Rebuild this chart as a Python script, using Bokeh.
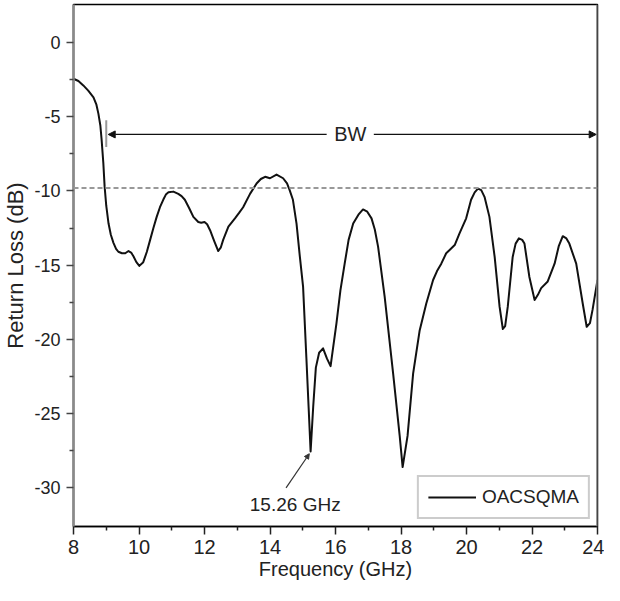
from bokeh.plotting import figure
from bokeh.models import (Range1d, FixedTicker, Span, Arrow, NormalHead, Legend,
                          LegendItem, Label, PrintfTickFormatter)
from bokeh.embed import file_html
from bokeh.resources import INLINE

# ---- data ----
freq_ghz = [8.0, 8.15, 8.3, 8.45, 8.61, 8.7, 8.76, 8.82, 8.86, 8.91, 8.95, 9.0, 9.07,
            9.14, 9.22, 9.3, 9.37, 9.48, 9.58, 9.68, 9.76, 9.83, 9.92, 10.01,
            10.13, 10.24, 10.34, 10.44, 10.54, 10.64, 10.74, 10.82, 10.9, 11.05, 11.2,
            11.3, 11.4, 11.53, 11.66, 11.81, 11.9, 12.0, 12.08, 12.17, 12.3, 12.42,
            12.5, 12.57, 12.73, 12.93, 13.05, 13.18, 13.39, 13.59, 13.72, 13.85, 14.0,
            14.2, 14.4, 14.52, 14.6, 14.7, 14.81, 14.91, 15.01, 15.11, 15.18, 15.24,
            15.32, 15.4, 15.5, 15.62, 15.74, 15.85, 16.03, 16.15, 16.28, 16.4, 16.54,
            16.7, 16.84, 16.97, 17.1, 17.2, 17.3, 17.5, 17.76, 17.96, 18.05, 18.2,
            18.37, 18.57, 18.77, 18.98, 19.1, 19.23, 19.38, 19.5, 19.64, 19.79, 19.99,
            20.14, 20.25, 20.35, 20.45, 20.55, 20.7, 20.86, 21.01, 21.11, 21.18, 21.26,
            21.41, 21.5, 21.6, 21.7, 21.77, 21.92, 22.08, 22.18, 22.28, 22.48, 22.69,
            22.82, 22.94, 23.05, 23.14, 23.35, 23.55, 23.67, 23.77, 23.85, 24.0]
return_loss_db = [-2.45, -2.6, -2.9, -3.25, -3.7, -4.2, -4.8, -5.6, -6.6, -8.1, -9.7,
                  -11.0, -12.2, -12.95, -13.5, -13.9, -14.1, -14.2, -14.2, -14.05,
                  -14.15, -14.4, -14.8, -15.05, -14.8, -14.1, -13.3, -12.5, -11.75,
                  -11.1, -10.6, -10.25, -10.1, -10.05, -10.2, -10.35, -10.6, -11.15,
                  -11.75, -12.1, -12.15, -12.1, -12.25, -12.65, -13.4, -14.05, -13.8,
                  -13.3, -12.4, -11.85, -11.5, -11.1, -10.2, -9.5, -9.2, -9.05, -9.15,
                  -8.9, -9.15, -9.5, -9.95, -10.6, -12.2, -14.4, -16.45, -21.2, -24.6,
                  -27.55, -24.5, -21.9, -20.9, -20.6, -21.3, -21.8, -18.9, -16.7, -14.9,
                  -13.3, -12.2, -11.6, -11.25, -11.4, -11.85, -12.6, -13.75, -17.1,
                  -22.3, -26.5, -28.6, -26.5, -22.3, -19.4, -17.6, -16.0, -15.4, -14.9,
                  -14.2, -13.95, -13.65, -12.85, -11.85, -10.6, -10.1, -9.85, -9.95,
                  -10.4, -11.75, -14.45, -17.8, -19.3, -19.1, -17.8, -14.45, -13.55,
                  -13.2, -13.3, -13.55, -15.8, -17.35, -17.0, -16.55, -16.1, -14.9,
                  -13.7, -13.05, -13.2, -13.55, -14.9, -17.6, -19.15, -18.9, -18.0,
                  -16.0]

series_name = "OACSQMA"
x_ticks = [8, 10, 12, 14, 16, 18, 20, 22, 24]
x_minor = [9, 11, 13, 15, 17, 19, 21, 23]
y_ticks = [-30, -25, -20, -15, -10, -5, 0]
y_minor = [-27.5, -22.5, -17.5, -12.5, -7.5, -2.5]
threshold_db = -9.8
bw_start_ghz = 9.0
bw_end_ghz = 24.0
bw_level_db = -6.2
bw_tick_top = -5.25
bw_tick_bottom = -7.05
bw_label = "BW"
bw_label_x = 16.45
bw_gap = 0.72
marker_text = "15.26 GHz"
marker_point = (15.2, -27.7)
marker_tail = (14.49, -30.0)
marker_label_pos = (14.77, -31.1)

FONT = "Liberation Sans"
TXT = "#222222"

p = figure(width=604, height=585, output_backend="svg", toolbar_location=None,
           x_range=Range1d(8, 24), y_range=Range1d(-32.6, 2.55),
           min_border_left=72, min_border_right=7, min_border_top=4,
           min_border_bottom=59)
p.xgrid.visible = False
p.ygrid.visible = False
p.outline_line_color = "black"
p.outline_line_width = 1.5
p.background_fill_color = "white"
p.border_fill_color = "white"

# threshold dashed line
p.add_layout(Span(location=threshold_db, dimension="width", line_color="#999999",
                  line_width=2, line_dash="5 3"))
# right border in gray
p.add_layout(Span(location=24, dimension="height", line_color="#8a8a8a",
                  line_width=2.5))

r = p.line(freq_ghz, return_loss_db, line_color="#111111", line_width=2,
           line_join="round")

# BW annotation
p.segment(x0=[bw_start_ghz], y0=[bw_tick_top], x1=[bw_start_ghz], y1=[bw_tick_bottom],
          line_color="#999999", line_width=2)
p.add_layout(Arrow(end=NormalHead(size=7, fill_color="#111111", line_color="#111111"),
                   x_start=bw_label_x - bw_gap, y_start=bw_level_db,
                   x_end=bw_start_ghz + 0.06, y_end=bw_level_db,
                   line_color="#111111", line_width=1.3))
p.add_layout(Arrow(end=NormalHead(size=7, fill_color="#111111", line_color="#111111"),
                   x_start=bw_label_x + bw_gap, y_start=bw_level_db,
                   x_end=bw_end_ghz - 0.04, y_end=bw_level_db,
                   line_color="#111111", line_width=1.3))
p.add_layout(Label(x=bw_label_x, y=bw_level_db, text=bw_label, text_align="center",
                   text_baseline="middle", text_font=FONT, text_font_size="20px",
                   text_color=TXT))

# marker annotation
p.add_layout(Arrow(end=NormalHead(size=5, fill_color="#333333", line_color="#333333"),
                   x_start=marker_tail[0], y_start=marker_tail[1],
                   x_end=marker_point[0], y_end=marker_point[1],
                   line_color="#333333", line_width=1.2))
p.add_layout(Label(x=marker_label_pos[0], y=marker_label_pos[1], text=marker_text,
                   text_align="center", text_baseline="middle", text_font=FONT,
                   text_font_size="19px", text_color=TXT))

# axes
xa = p.xaxis[0]
xa.ticker = FixedTicker(ticks=x_ticks, minor_ticks=x_minor)
xa.formatter = PrintfTickFormatter(format="%d")
xa.axis_line_color = "black"
xa.axis_line_width = 1.5
xa.major_tick_in = 0
xa.major_tick_out = 8
xa.minor_tick_in = 0
xa.minor_tick_out = 4
xa.major_tick_line_color = "#222222"
xa.minor_tick_line_color = "#222222"
xa.major_tick_line_width = 1.5
xa.minor_tick_line_width = 1.5
xa.major_label_text_font = FONT
xa.major_label_text_font_size = "20px"
xa.major_label_text_color = TXT
xa.major_label_standoff = 5
xa.axis_label = "Frequency (GHz)"
xa.axis_label_text_font = FONT
xa.axis_label_text_font_size = "20px"
xa.axis_label_text_font_style = "normal"
xa.axis_label_text_color = TXT
xa.axis_label_standoff = 1

ya = p.yaxis[0]
ya.ticker = FixedTicker(ticks=y_ticks, minor_ticks=y_minor)
ya.formatter = PrintfTickFormatter(format="%d")
ya.axis_line_color = "#8a8a8a"
ya.axis_line_width = 2.5
ya.major_tick_in = 0
ya.major_tick_out = 7
ya.minor_tick_in = 0
ya.minor_tick_out = 4
ya.major_tick_line_color = "#444444"
ya.minor_tick_line_color = "#444444"
ya.major_tick_line_width = 1.5
ya.minor_tick_line_width = 1.5
ya.major_label_text_font = FONT
ya.major_label_text_font_size = "18px"
ya.major_label_text_color = TXT
ya.major_label_standoff = 6
ya.axis_label = "Return Loss (dB)"
ya.axis_label_text_font = FONT
ya.axis_label_text_font_size = "22px"
ya.axis_label_text_font_style = "normal"
ya.axis_label_text_color = TXT
ya.axis_label_standoff = 3

legend = Legend(items=[LegendItem(label=series_name, renderers=[r])],
                location="bottom_right", margin=7, padding=9, spacing=0,
                glyph_width=48, glyph_height=20, label_standoff=6,
                label_text_font=FONT, label_text_font_size="19px",
                label_text_color=TXT, border_line_color="#999999",
                border_line_width=2, background_fill_alpha=1.0)
p.add_layout(legend)

open("out.html", "w").write(file_html(p, INLINE))
